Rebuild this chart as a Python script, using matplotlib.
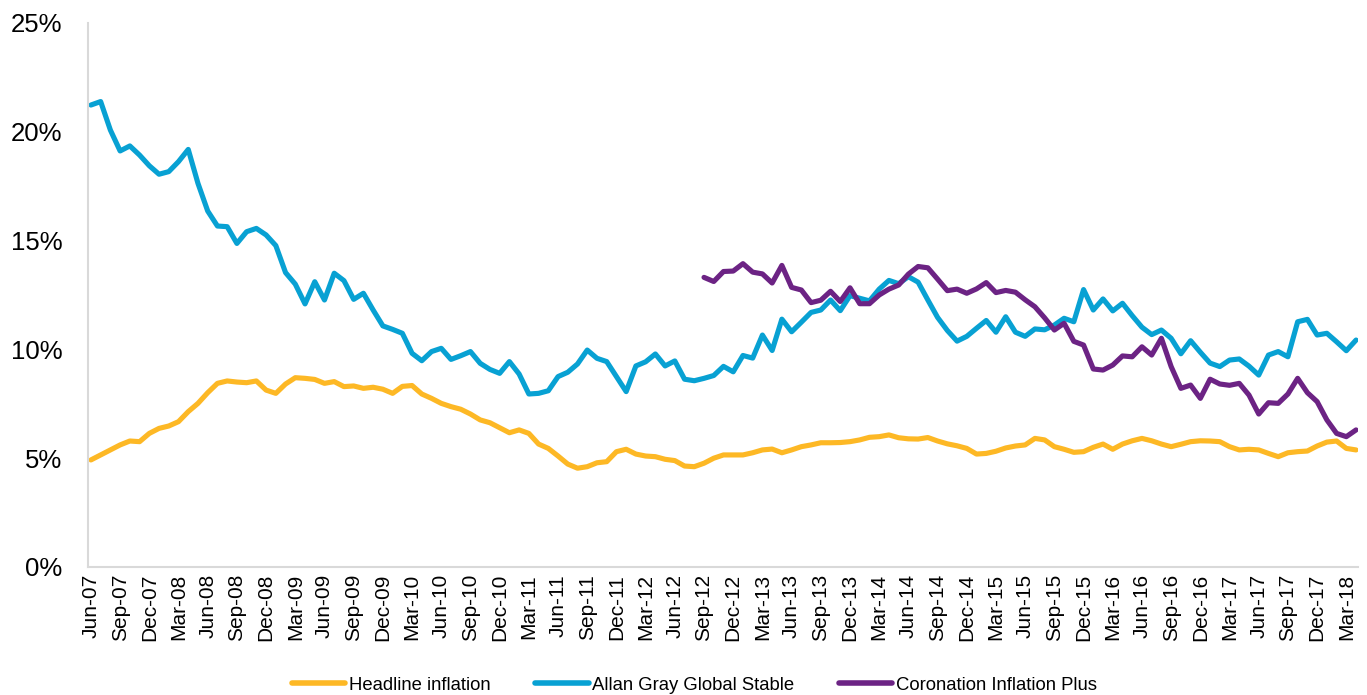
import numpy as np
import pandas as pd
import matplotlib
matplotlib.use("Agg")
import matplotlib.pyplot as plt

# ---- data -------------------------------------------------------------
months = list(pd.date_range("2007-06-01", periods=131, freq="MS").strftime("%b-%y"))

headline = [
    4.92, 5.15, 5.38, 5.61, 5.79, 5.76, 6.14, 6.37, 6.48, 6.68,
    7.14, 7.52, 8.01, 8.44, 8.55, 8.50, 8.47, 8.55, 8.13, 7.98,
    8.41, 8.70, 8.67, 8.62, 8.44, 8.52, 8.29, 8.32, 8.21, 8.26,
    8.17, 7.98, 8.30, 8.34, 7.95, 7.75, 7.52, 7.37, 7.25, 7.03,
    6.76, 6.63, 6.40, 6.17, 6.30, 6.14, 5.65, 5.45, 5.10, 4.73,
    4.54, 4.61, 4.79, 4.84, 5.30, 5.41, 5.19, 5.10, 5.07, 4.95,
    4.89, 4.64, 4.61, 4.77, 5.00, 5.15, 5.15, 5.15, 5.25, 5.38,
    5.42, 5.25, 5.38, 5.53, 5.61, 5.71, 5.71, 5.72, 5.76, 5.84,
    5.96, 5.99, 6.07, 5.94, 5.89, 5.88, 5.95, 5.79, 5.66, 5.57,
    5.45, 5.19, 5.22, 5.32, 5.47, 5.56, 5.61, 5.91, 5.84, 5.53,
    5.41, 5.27, 5.30, 5.50, 5.65, 5.41, 5.65, 5.80, 5.91, 5.80,
    5.65, 5.53, 5.64, 5.76, 5.80, 5.79, 5.76, 5.53, 5.38, 5.41,
    5.38, 5.22, 5.07, 5.25, 5.30, 5.33, 5.56, 5.74, 5.79, 5.45,
    5.38,
]

allan_gray = [
    21.23, 21.39, 20.08, 19.12, 19.35, 18.93, 18.44, 18.05, 18.17, 18.63,
    19.19, 17.63, 16.36, 15.67, 15.64, 14.87, 15.41, 15.56, 15.26, 14.77,
    13.53, 13.00, 12.09, 13.11, 12.27, 13.50, 13.16, 12.30, 12.58, 11.81,
    11.08, 10.92, 10.74, 9.82, 9.48, 9.90, 10.05, 9.54, 9.71, 9.90,
    9.36, 9.08, 8.90, 9.44, 8.87, 7.95, 7.98, 8.10, 8.75, 8.95,
    9.33, 9.97, 9.59, 9.44, 8.75, 8.06, 9.24, 9.43, 9.79, 9.24,
    9.47, 8.63, 8.56, 8.67, 8.80, 9.22, 8.97, 9.72, 9.60, 10.66,
    9.95, 11.39, 10.81, 11.25, 11.70, 11.81, 12.27, 11.78, 12.47, 12.35,
    12.23, 12.77, 13.17, 13.02, 13.34, 13.09, 12.27, 11.47, 10.87, 10.38,
    10.60, 10.97, 11.33, 10.79, 11.50, 10.79, 10.60, 10.94, 10.90, 11.12,
    11.43, 11.27, 12.75, 11.81, 12.32, 11.77, 12.12, 11.55, 11.02, 10.68,
    10.89, 10.51, 9.80, 10.40, 9.87, 9.37, 9.21, 9.51, 9.56, 9.23,
    8.82, 9.74, 9.90, 9.66, 11.27, 11.38, 10.66, 10.74, 10.35, 9.94,
    10.43,
]

# Coronation series starts in Sep-12 (earlier months have no data)
coronation_start = "Sep-12"
coronation = [
    13.31, 13.12, 13.58, 13.60, 13.94, 13.55, 13.47, 13.05, 13.86, 12.85,
    12.73, 12.15, 12.26, 12.67, 12.20, 12.83, 12.10, 12.10, 12.50, 12.77,
    12.96, 13.46, 13.81, 13.75, 13.23, 12.70, 12.77, 12.58, 12.78, 13.07,
    12.61, 12.71, 12.63, 12.28, 11.96, 11.45, 10.89, 11.20, 10.37, 10.20,
    9.10, 9.05, 9.28, 9.70, 9.66, 10.12, 9.74, 10.51, 9.21, 8.21,
    8.36, 7.75, 8.63, 8.41, 8.35, 8.44, 7.90, 7.03, 7.55, 7.52,
    7.95, 8.67, 8.01, 7.60, 6.76, 6.14, 5.99, 6.30,
]

series_names = ["Headline inflation", "Allan Gray Global Stable", "Coronation Inflation Plus"]
colors = ["#FDB825", "#08A1D3", "#6C2384"]
y_ticks = [0, 5, 10, 15, 20, 25]

# ---- figure -----------------------------------------------------------
plt.rcParams["font.family"] = ["Liberation Sans", "DejaVu Sans"]

W, H, DPI = 1367, 695, 100
fig = plt.figure(figsize=(W / DPI, H / DPI), dpi=DPI)
ax = fig.add_axes([88 / W, (H - 567) / H, (1358 - 88) / W, (567 - 23) / H])

x = np.arange(len(months))
cor_full = np.full(len(months), np.nan)
s = months.index(coronation_start)
cor_full[s:s + len(coronation)] = coronation

lw = 3.7
for vals, name, col in zip([headline, allan_gray, cor_full], series_names, colors):
    ax.plot(x, vals, color=col, lw=lw, label=name,
            solid_joinstyle="round", solid_capstyle="round")

ax.set_xlim(-0.3, 130.2)
ax.set_ylim(0, 25)
ax.set_yticks(y_ticks)
ax.set_yticklabels([f"{v}%" for v in y_ticks], fontsize=18.5, color="#000000")

tick_idx = list(range(0, len(months), 3))
ax.set_xticks(tick_idx)
ax.set_xticklabels([months[i] for i in tick_idx], rotation=90, fontsize=15,
                   color="#000000")

ax.tick_params(axis="y", length=0, pad=18.5)
ax.tick_params(axis="x", length=0, pad=5)

for side in ["top", "right"]:
    ax.spines[side].set_visible(False)
for side in ["left", "bottom"]:
    ax.spines[side].set_color("#D9D9D9")
    ax.spines[side].set_linewidth(1.5)

leg = fig.legend(loc="center", bbox_to_anchor=(0.508, 1 - 685 / H), ncol=3,
                 frameon=False, fontsize=13.3, handlelength=2.9,
                 handletextpad=0.2, columnspacing=2.4)
for h in leg.get_lines():
    h.set_linewidth(4)

fig.savefig("out.png", dpi=DPI)
